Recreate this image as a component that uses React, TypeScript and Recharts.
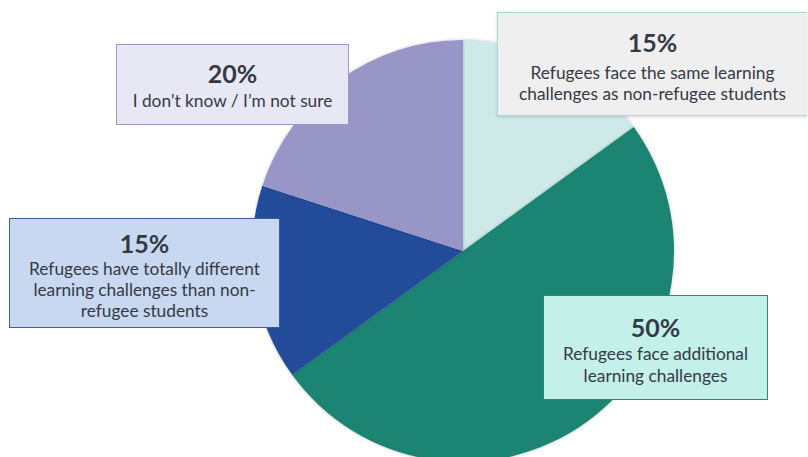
import React from "react";
import { PieChart, Pie, Cell } from "recharts";

const categories = [
  "Refugees face the same learning challenges as non-refugee students",
  "Refugees face additional learning challenges",
  "Refugees have totally different learning challenges than non-refugee students",
  "I don’t know / I’m not sure",
];
const values = [15, 50, 15, 20];
const sliceColors = ["#cdeae8", "#1d8473", "#234c9a", "#9896c7"];
const labelLines = [
  ["Refugees face the same learning", "challenges as non-refugee students"],
  ["Refugees face additional", "learning challenges"],
  ["Refugees have totally different", "learning challenges than non-", "refugee students"],
  ["I don’t know / I’m not sure"],
];

const data = categories.map((name, i) => ({ name, value: values[i] }));

const boxStyles: React.CSSProperties[] = [
  { left: 497, top: 12, width: 310, height: 104, background: "#efefef", border: "1.5px solid #a9d9d5", borderRight: "none", boxShadow: "0 1px 3px rgba(0,0,0,0.15)" },
  { left: 543, top: 295, width: 225, height: 105, background: "#c4f0ea", border: "1.5px solid #2a8a7a" },
  { left: 9, top: 218, width: 271, height: 110, background: "#c9d8f1", border: "1.5px solid #3a5ba8" },
  { left: 116, top: 44, width: 233, height: 81, background: "#e8e8f4", border: "1.5px solid #9b99cc" },
];
const boxPadTop = [14, 16, 9, 13];
const headGap = [5, 1, 0, 2];
const lineHeights = [21, 22, 21, 22];

export default function App() {
  return (
    <div style={{ position: "absolute", left: 0, top: 0, width: 808, height: 457, overflow: "hidden", background: "#fff", fontFamily: "Lato, 'Open Sans', sans-serif" }}>
      <div style={{ position: "absolute", left: 0, top: 0 }}>
        <PieChart width={808} height={457} margin={{ top: 0, right: 0, bottom: 0, left: 0 }}>
          <defs>
            <filter id="pieShadow" x="-10%" y="-10%" width="120%" height="120%">
              <feDropShadow dx="0" dy="0" stdDeviation="1.5" floodColor="#000" floodOpacity="0.25" />
            </filter>
          </defs>
          <Pie
            data={data}
            dataKey="value"
            nameKey="name"
            cx={463}
            cy={251}
            outerRadius={211}
            innerRadius={0}
            startAngle={90}
            endAngle={-270}
            stroke="none"
            isAnimationActive={false}
            style={{ filter: "url(#pieShadow)" }}
          >
            {data.map((d, i) => (
              <Cell key={d.name} fill={sliceColors[i]} />
            ))}
          </Pie>
        </PieChart>
      </div>
      {labelLines.map((lines, i) => (
        <div
          key={i}
          style={{
            position: "absolute",
            boxSizing: "border-box",
            paddingTop: boxPadTop[i],
            textAlign: "center",
            color: "#343a45",
            ...boxStyles[i],
          }}
        >
          <div style={{ fontSize: 25, fontWeight: 700, lineHeight: "30px", marginBottom: headGap[i] }}>{values[i]}%</div>
          {lines.map((l, j) => (
            <div key={j} style={{ fontSize: 17.3, lineHeight: `${lineHeights[i]}px` }}>{l}</div>
          ))}
        </div>
      ))}
    </div>
  );
}
